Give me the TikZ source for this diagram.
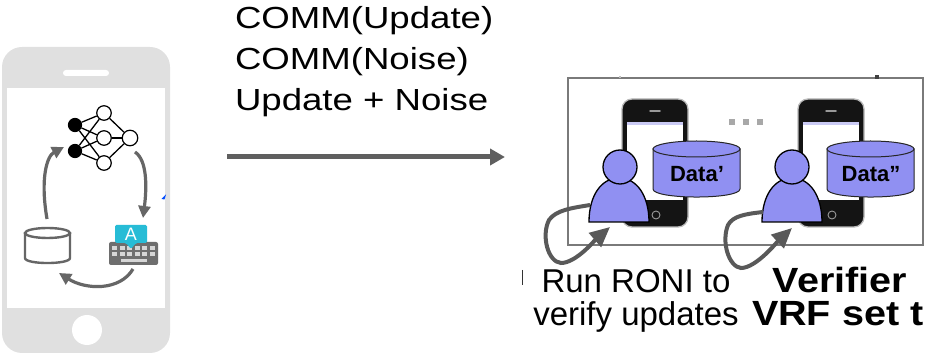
\documentclass[tikz,border=0pt]{standalone}
\usepackage{fontspec}
\setmainfont{Liberation Sans}
\usetikzlibrary{arrows.meta}

\definecolor{phonegray}{HTML}{E0E0E0}
\definecolor{cyclegray}{HTML}{666666}
\definecolor{loopgray}{HTML}{595959}
\definecolor{sendgray}{HTML}{5F5F5F}
\definecolor{boxgray}{HTML}{7A7A7A}
\definecolor{lavender}{HTML}{9090F2}
\definecolor{badgecyan}{HTML}{27BCD6}
\definecolor{kbgray}{HTML}{6E6E6E}
\definecolor{keygray}{HTML}{D6D6D6}
\definecolor{dotgray}{HTML}{A8A8A8}

\begin{document}
\begin{tikzpicture}[x=1pt,y=-1pt,
  innode/.style={circle, fill=black, draw=black, line width=1.2pt, minimum size=13pt, inner sep=0pt},
  hidnode/.style={circle, fill=white, draw=black, line width=1.2pt, minimum size=14.5pt, inner sep=0pt},
  nnedge/.style={black, line width=1.3pt},
  cyc/.style={cyclegray, line width=3.2pt, -{Triangle[length=12pt,width=12pt]}},
  dbline/.style={cyclegray, line width=2.4pt},
  sendarrow/.style={sendgray, line width=5pt, -{Triangle[length=15pt,width=16pt]}},
  loop/.style={loopgray, line width=4pt, -{Triangle[length=20pt,width=18pt]}},
  cyl/.style={fill=lavender, draw=black!85, line width=1pt},
  person/.style={fill=lavender, draw=black, line width=1.3pt},
  txt/.style={inner sep=0pt, outer sep=0pt},
]
\useasboundingbox (0,0) rectangle (932,355);
\clip (0,0) rectangle (932,355);

% ---------- handset with the local training loop ----------
\fill[phonegray, rounded corners=20pt] (2,47) rectangle (170,353);
\fill[white] (7,88) rectangle (165,308);
\fill[white, rounded corners=3pt] (63,70) rectangle (109,76);
\fill[white] (87,330) circle[radius=15pt];

% neural network
\node[innode]  (i1) at (75,125) {};
\node[innode]  (i2) at (75,151) {};
\node[hidnode] (h1) at (104,113) {};
\node[hidnode] (h2) at (104,138) {};
\node[hidnode] (h3) at (104,163) {};
\node[hidnode, minimum size=15.5pt] (out) at (130,138) {};
\foreach \i in {i1,i2}
  \foreach \h in {h1,h2,h3}
    \draw[nnedge] (\i) -- (\h);
\foreach \h in {h1,h2,h3}
  \draw[nnedge] (\h) -- (out);

% database
\draw[dbline] (25,233) -- (25,258) .. controls (25,264.7) and (70,264.7) .. (70,258) -- (70,233);
\draw[dbline] (47.5,233) ellipse[x radius=22.5pt, y radius=5pt];
\coordinate (dbtop) at (47,219);

% keyboard
\fill[kbgray, rounded corners=2pt] (109,242) rectangle (158,265);
\foreach \kx in {112,119.5,127,134.5,142,149.5} {
  \fill[keygray] (\kx,246.5) rectangle ++(5,3.5);
  \fill[keygray] (\kx,252.5) rectangle ++(5,3.5);
}
\fill[keygray] (121,259) rectangle (147,262);
\fill[badgecyan, rounded corners=1.5pt] (115,225) -- (147,225) -- (147,243) -- (136,243)
  -- (131,249) -- (126,243) -- (115,243) -- cycle;
\node[txt, white, font=\fontsize{18}{18}\selectfont] (akey) at (131,234.5) {A};
\coordinate (kbtop) at (143,218);
\coordinate (kbbottom) at (133,269);
\coordinate (dbside) at (59,273);
\coordinate (nnin) at (64,147);
\coordinate (nnout) at (135,152);
\fill[blue!70!cyan] (161.5,199) -- (166,194.5) -- (164.5,199.5) -- cycle;

% training cycle
\draw[cyc] (dbtop) .. controls (40,178) and (47,156) .. (nnin);
\draw[cyc] (nnout) .. controls (147,160) and (147,186) .. (kbtop);
\draw[cyc] (kbbottom) .. controls (120,291) and (86,290) .. (dbside);

% ---------- message ----------
\node[txt, anchor=base west, font=\fontsize{30.5}{36}\selectfont] (m1) at (235,29) {\scalebox{1.2}[1]{COMM(Update)}};
\node[txt, anchor=base west, font=\fontsize{30.5}{36}\selectfont] (m2) at (235,70) {\scalebox{1.2}[1]{COMM(Noise)}};
\node[txt, anchor=base west, font=\fontsize{30.5}{36}\selectfont] (m3) at (235,111) {\scalebox{1.2}[1]{Update + Noise}};
\coordinate (sendfrom) at (227,157);
\coordinate (sendto) at (505,157);
\draw[sendarrow] (sendfrom) -- (sendto);

% ---------- verifiers ----------
\draw[boxgray, line width=1.8pt] (568,78) rectangle (923,245);
\fill[gray!50] (619,76) rectangle (621,78);
\fill[black!75] (875,75.5) rectangle (879,79);

\foreach \dx in {0,176} {
  \begin{scope}[xshift=\dx pt]
    \filldraw[fill=black!92, draw=gray!55, line width=1.3pt, rounded corners=10pt] (622,99) rectangle (688,227);
    \fill[white] (627,122) rectangle (683,200);
    \fill[gray!35!blue!25] (627,122) rectangle (683,125);
    \draw[gray!80, line width=1.5pt, line cap=round] (650,111) -- (660,111);
    \draw[gray!80, line width=0.9pt] (656,215) circle[radius=4pt];
  \end{scope}
}

\foreach \dx in {729,743,757}
  \fill[dotgray] (\dx,119) rectangle ++(6,6);

% data stores
\filldraw[cyl] (653,149) -- (653,189) .. controls (653,199.7) and (740,199.7) .. (740,189) -- (740,149) -- cycle;
\filldraw[cyl] (696.5,149) ellipse[x radius=43.5pt, y radius=8pt];
\node[txt, font=\fontsize{22}{22}\bfseries] (d1) at (697,174) {Data’};
\filldraw[cyl] (827,149) -- (827,189) .. controls (827,199.7) and (914,199.7) .. (914,189) -- (914,149) -- cycle;
\filldraw[cyl] (870.5,149) ellipse[x radius=43.5pt, y radius=8pt];
\node[txt, font=\fontsize{22}{22}\bfseries] (d2) at (871,174) {Data”};

% users
\filldraw[person] (589,222) .. controls (589,196) and (601,178) .. (619,178)
  .. controls (637,178) and (649,196) .. (649,222) -- cycle;
\filldraw[person] (620,167) circle[radius=17pt];
\filldraw[person] (762,222) .. controls (762,196) and (774,178) .. (792,178)
  .. controls (810,178) and (822,196) .. (822,222) -- cycle;
\filldraw[person] (792,167) circle[radius=17pt];

\coordinate (u1side) at (590,205);
\coordinate (u1foot) at (610,227);
\coordinate (u2side) at (763,212);
\coordinate (u2foot) at (792,228);

% self checks
\draw[loop] (u1side) .. controls (572,208) and (556,210) .. (549,220)
  .. controls (541,236) and (548,262) .. (561,263)
  .. controls (576,263) and (595,240) .. (u1foot);
\draw[loop] (u2side) .. controls (745,214) and (733,216) .. (728,225)
  .. controls (721,242) and (729,267) .. (741,268)
  .. controls (756,268) and (777,242) .. (u2foot);

% captions
\draw[black!80, line width=1.4pt] (522.5,270) -- (522.5,285);
\node[txt, anchor=base, font=\fontsize{33}{33}\selectfont] (r1) at (636,293) {Run RONI to};
\node[txt, anchor=base, font=\fontsize{33}{33}\selectfont] (r2) at (636,326) {verify updates};
\node[txt, anchor=base, font=\fontsize{35}{35}\bfseries] (v1) at (840,293) {\scalebox{1.13}[1]{Verifier}};
\node[txt, anchor=base west, font=\fontsize{35}{35}\bfseries] (v2) at (752,326) {\scalebox{1.13}[1]{VRF set t}};
\end{tikzpicture}
\end{document}
